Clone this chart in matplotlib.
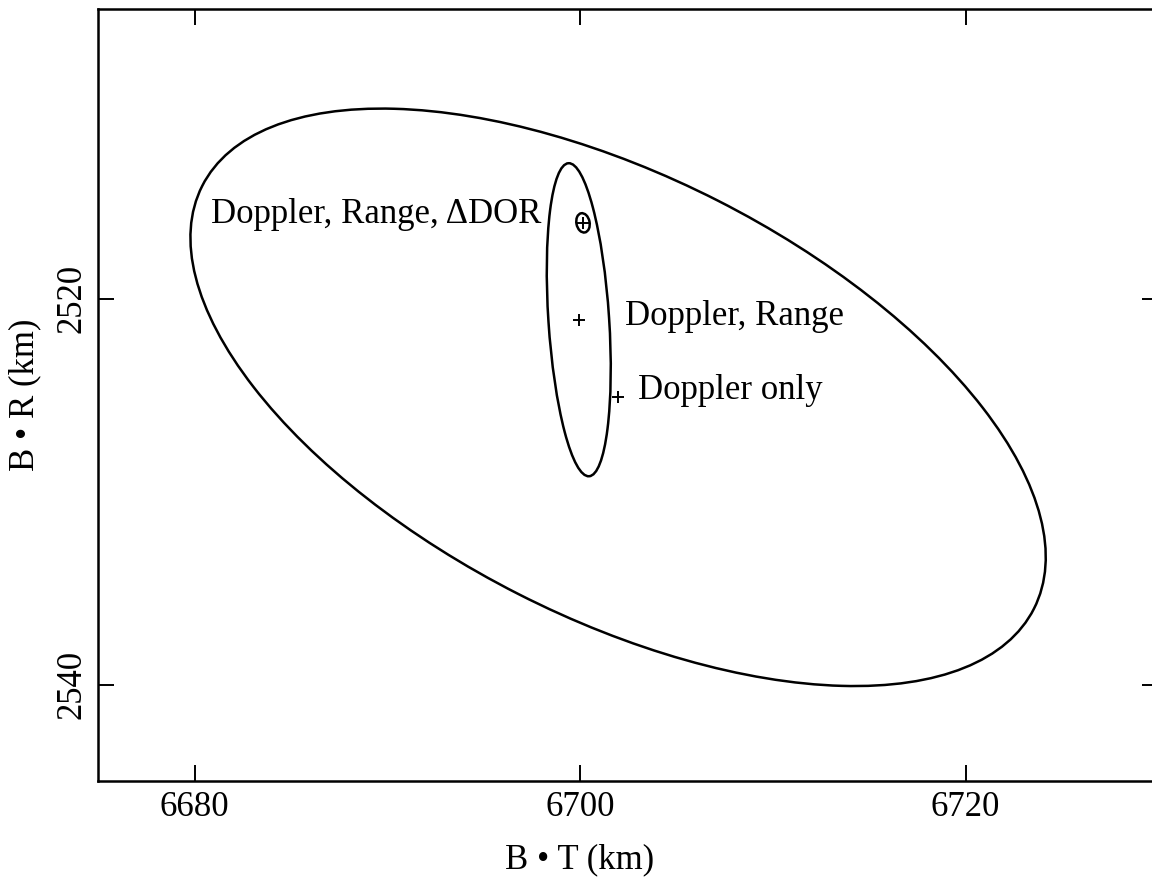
import numpy as np
import matplotlib
matplotlib.use("Agg")
import matplotlib.pyplot as plt
from matplotlib.patches import Ellipse

# ---- data ----
solutions = ["Doppler only", "Doppler, Range", "Doppler, Range, \u0394DOR"]
center_bt = [6701.97, 6699.93, 6700.15]   # B.T (km)
center_br = [2525.12, 2521.10, 2516.08]   # B.R (km)
extent_bt = [22.19, 1.66, 0.35]           # half-extent along B.T
extent_br = [14.96, 8.11, 0.50]           # half-extent along B.R
correlation = [0.553, 0.31, 0.15]

xticks = [6680, 6700, 6720]
yticks = [2520, 2540]

plt.rcParams['font.family'] = ['Liberation Serif', 'DejaVu Serif']
plt.rcParams['mathtext.fontset'] = 'stix'

fig = plt.figure(figsize=(11.52, 8.84), dpi=100)
ax = fig.add_axes([98.3 / 1152, 103 / 884, 1060 / 1152, 772 / 884])

for cx, cy, sx, sy, r in zip(center_bt, center_br, extent_bt, extent_br, correlation):
    cov = np.array([[sx * sx, r * sx * sy], [r * sx * sy, sy * sy]])
    vals, vecs = np.linalg.eigh(cov)
    order = vals.argsort()[::-1]
    vals, vecs = vals[order], vecs[:, order]
    angle = np.degrees(np.arctan2(vecs[1, 0], vecs[0, 0]))
    e = Ellipse((cx, cy), 2 * np.sqrt(vals[0]), 2 * np.sqrt(vals[1]), angle=angle,
                fill=False, edgecolor='black', lw=1.8)
    ax.add_patch(e)
    ax.plot(cx, cy, marker='+', color='black', ms=8, mew=1.4, ls='none')

fs = 25
ax.text(6680.83, 2516.09, solutions[2], fontsize=fs, ha='left', va='baseline')
ax.text(6702.33, 2521.35, solutions[1], fontsize=fs, ha='left', va='baseline')
ax.text(6703.0, 2525.23, solutions[0], fontsize=fs, ha='left', va='baseline')

ax.set_xlim(6675, 6730)
ax.set_ylim(2545, 2505)
ax.set_xticks(xticks)
ax.set_yticks(yticks)
ax.tick_params(direction='in', length=11.5, width=1.4, top=True, right=True,
               labelsize=fs, pad=7)
ax.tick_params(axis='y', labelrotation=90)
for lbl in ax.get_yticklabels():
    lbl.set_va('center')
for s in ax.spines.values():
    s.set_linewidth(1.8)

ax.set_xlabel("B \u2022 T (km)", fontsize=fs, labelpad=14)
ax.xaxis.label.set_x((580 - 98.3) / 1060)
ax.set_ylabel("B \u2022 R (km)", fontsize=fs, labelpad=10)

fig.savefig("out.png", dpi=100)
